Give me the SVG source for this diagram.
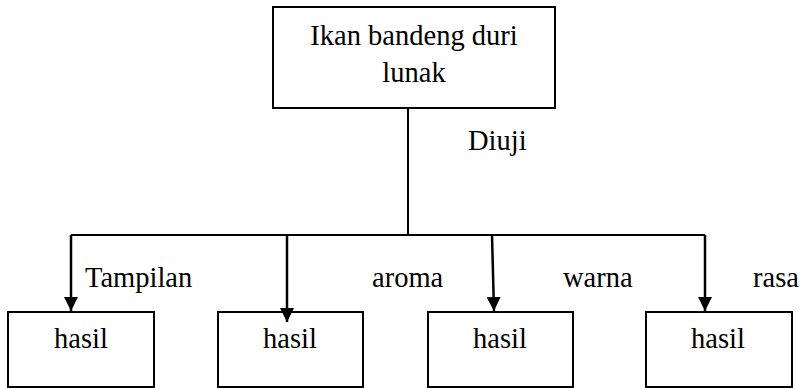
<svg xmlns="http://www.w3.org/2000/svg" width="806" height="388" viewBox="0 0 806 388">
<defs>
<style>
.box{fill:#fff;stroke:#000;stroke-width:2}
.t{font-family:"Liberation Serif","Times New Roman",serif;font-size:28.5px;fill:#000}
.c{text-anchor:middle}
.ln{stroke:#000;stroke-width:2;fill:none}
.ar{stroke:#000;stroke-width:2.5;fill:none}
</style>
<marker id="ah" viewBox="0 0 10 10" refX="10" refY="5" markerWidth="14" markerHeight="14" markerUnits="userSpaceOnUse" orient="auto">
<path d="M0,0 L10,5 L0,10 Z" fill="#000"/>
</marker>
</defs>
<g id="root">
<rect class="box" x="273" y="7" width="282" height="101"/>
<text class="t c" x="414" y="45">Ikan bandeng duri</text>
<text class="t c" x="414" y="82">lunak</text>
</g>
<g id="hasil1">
<rect class="box" x="8" y="312" width="146" height="75"/>
<text class="t c" x="81" y="348">hasil</text>
</g>
<g id="hasil2">
<rect class="box" x="218" y="312" width="145" height="75"/>
<text class="t c" x="290" y="348">hasil</text>
</g>
<g id="hasil3">
<rect class="box" x="428" y="312" width="145" height="75"/>
<text class="t c" x="500" y="348">hasil</text>
</g>
<g id="hasil4">
<rect class="box" x="646" y="312" width="146" height="75"/>
<text class="t c" x="718" y="348">hasil</text>
</g>
<g id="connectors">
<line class="ln" x1="408" y1="108" x2="408" y2="235"/>
<line class="ln" x1="71" y1="235" x2="705" y2="235"/>
<line class="ar" x1="71" y1="235" x2="71" y2="311" marker-end="url(#ah)"/>
<line class="ar" x1="287" y1="235" x2="287" y2="322" marker-end="url(#ah)"/>
<line class="ar" x1="492" y1="235" x2="494" y2="311" marker-end="url(#ah)"/>
<line class="ar" x1="705" y1="235" x2="705" y2="311" marker-end="url(#ah)"/>
<text class="t" x="468" y="150">Diuji</text>
<text class="t" x="85" y="287">Tampilan</text>
<text class="t" x="372" y="287">aroma</text>
<text class="t" x="563" y="287">warna</text>
<text class="t" x="753" y="287">rasa</text>
</g>
</svg>
